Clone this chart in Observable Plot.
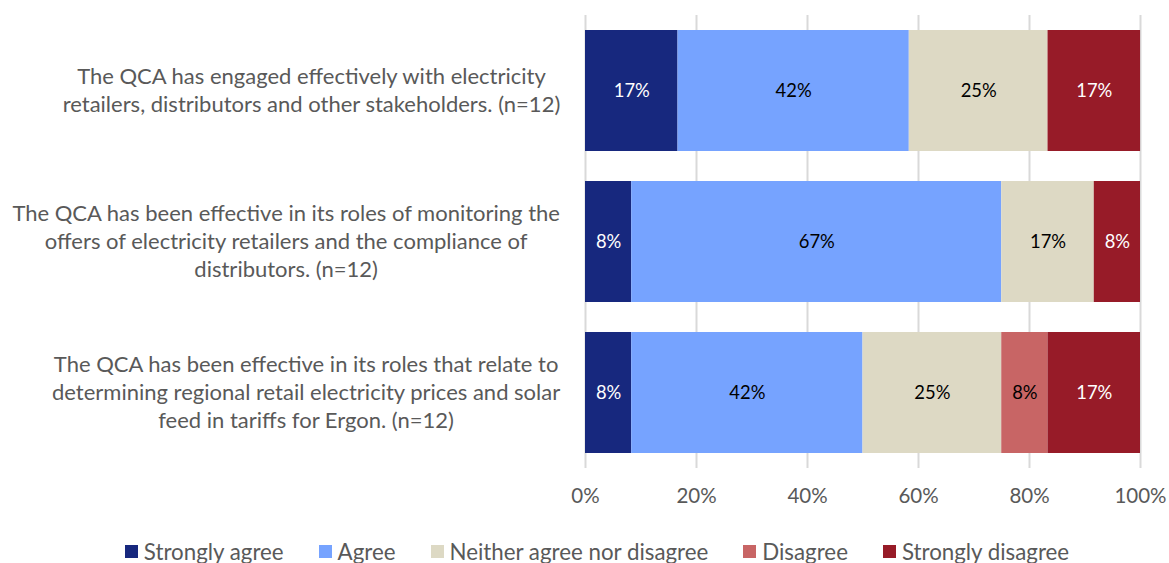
<!DOCTYPE html>
<html><head><meta charset="utf-8">
<script src="https://cdn.jsdelivr.net/npm/d3@7"></script>
<script src="https://cdn.jsdelivr.net/npm/@observablehq/plot@0.6"></script>
<style>
body{margin:0;background:#fff;font-family:Lato,sans-serif;}
#legend{display:flex;justify-content:center;align-items:center;gap:35px;font-size:22.3px;color:#595959;height:30px;margin-top:16px;padding-left:25px;}
.sw{display:flex;align-items:center;}
.sw span.box{width:13px;height:13px;display:inline-block;margin-right:6px;}
</style></head><body><div id="chart"></div><div id="legend"></div><script>
const questionLines = [
  ["The QCA has engaged effectively with electricity", "retailers, distributors and other stakeholders. (n=12)"],
  ["The QCA has been effective in its roles of monitoring the", "offers of electricity retailers and the compliance of", "distributors. (n=12)"],
  ["The QCA has been effective in its roles that relate to", "determining regional retail electricity prices and solar", "feed in tariffs for Ergon. (n=12)"]
];
const categories = ["Strongly agree", "Agree", "Neither agree nor disagree", "Disagree", "Strongly disagree"];
const colors = ["#17287E", "#76A3FF", "#DDD9C4", "#C86565", "#971B28"];
const stronglyAgree = [16.67, 8.33, 8.33];
const agree = [41.67, 66.67, 41.67];
const neither = [25, 16.67, 25];
const disagree = [0, 0, 8.33];
const stronglyDisagree = [16.67, 8.33, 16.67];
const xTicks = [0, 20, 40, 60, 80, 100];

const questions = questionLines.map(l => l.join(" "));
const series = [stronglyAgree, agree, neither, disagree, stronglyDisagree];
const data = [];
questions.forEach((q, i) => categories.forEach((c, j) => data.push({question: q, category: c, value: series[j][i]})));
const whiteText = new Set(["Strongly agree", "Strongly disagree"]);

const FONT = "Lato";
const ctx = document.createElement("canvas").getContext("2d");
const labelSize = 22, labelLH = 28;
const chart = Plot.plot({
  width: 1169, height: 520,
  marginLeft: 585, marginRight: 29, marginTop: 15, marginBottom: 52,
  style: {fontFamily: FONT, background: "white"},
  x: {domain: [0, 100], ticks: xTicks, tickFormat: d => d + "%", tickSize: 0, tickPadding: 20, label: null},
  y: {domain: questions, paddingInner: 0.2, paddingOuter: 0.1, axis: null},
  color: {domain: categories, range: colors},
  marks: [
    Plot.ruleX(xTicks, {stroke: "#d9d9d9", strokeWidth: 2}),
    Plot.barX(data, {x: "value", y: "question", fill: "category", order: categories}),
    Plot.text(data.filter(d => d.value > 0), Plot.stackX({x: "value", y: "question", z: "category", order: categories,
      text: d => Math.round(d.value) + "%", fill: d => whiteText.has(d.category) ? "white" : "black", fontSize: 18.4})),
    ...questionLines.map((lines, i) => {
      ctx.font = `${labelSize}px "${FONT}"`;
      const mw = d3.max(lines, l => ctx.measureText(l).width);
      return Plot.text([questions[i]], {y: d => d, frameAnchor: "left", text: () => lines.join("\n"),
        textAnchor: "middle", dx: -25 - mw / 2, dy: -2, fontSize: labelSize, lineHeight: labelLH / labelSize, fill: "#595959"});
    })
  ]
});
chart.querySelectorAll("g[aria-label='x-axis tick label'] text, g[aria-label='x-axis tick label']").forEach(e => {e.setAttribute("font-size", 20.5); e.setAttribute("fill", "#595959");});
document.getElementById("chart").appendChild(chart);
const cs = chart.scale("color");
const lg = document.getElementById("legend");
cs.domain.forEach((c, i) => {
  const d = document.createElement("div"); d.className = "sw";
  d.innerHTML = `<span class="box" style="background:${cs.range[i]}"></span>${c}`;
  lg.appendChild(d);
});
</script></body></html>
